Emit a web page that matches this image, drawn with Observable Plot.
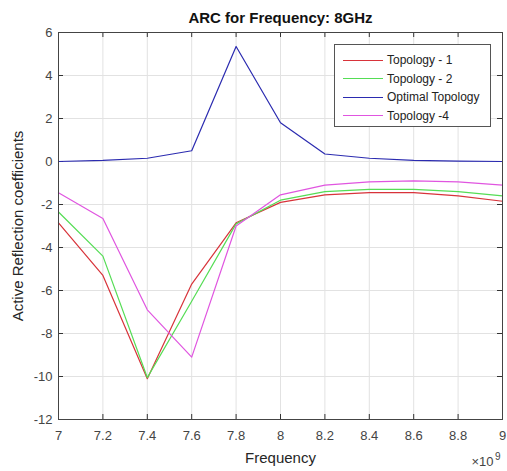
<!DOCTYPE html>
<html><head><meta charset="utf-8">
<script src="https://cdn.jsdelivr.net/npm/d3@7"></script>
<script src="https://cdn.jsdelivr.net/npm/@observablehq/plot@0.6"></script>
<style>
body{margin:0;background:#fff;}
#wrap{position:relative;width:507px;height:471px;font-family:"Liberation Sans",Arial,sans-serif;}
#legend{position:absolute;left:334px;top:44px;width:155px;height:81px;border:1px solid #555;background:#fff;}
.row{position:absolute;left:8px;height:18px;display:flex;align-items:center;font-size:12px;color:#222;white-space:nowrap;}
.sw{width:40px;height:0;border-top:1.3px solid;margin-right:4px;}
</style></head><body><div id="wrap"></div>
<script>
const freqGHz = [7, 7.2, 7.4, 7.6, 7.8, 8, 8.2, 8.4, 8.6, 8.8, 9];
const topology1 = [-2.85, -5.3, -10.1, -5.7, -2.85, -1.9, -1.55, -1.45, -1.45, -1.6, -1.85];
const topology2 = [-2.35, -4.4, -10.05, -6.5, -2.9, -1.8, -1.4, -1.3, -1.3, -1.4, -1.6];
const optimal = [0.0, 0.05, 0.15, 0.5, 5.35, 1.8, 0.35, 0.15, 0.05, 0.02, 0.0];
const topology4 = [-1.45, -2.65, -6.9, -9.1, -3.0, -1.55, -1.1, -0.95, -0.9, -0.95, -1.1];
const seriesNames = ["Topology - 1", "Topology - 2", "Optimal Topology", "Topology -4"];
const seriesColors = ["#d8333a", "#55dd55", "#2b2bb0", "#e055e0"];
const xTicks = [7, 7.2, 7.4, 7.6, 7.8, 8, 8.2, 8.4, 8.6, 8.8, 9];
const yTicks = [-12, -10, -8, -6, -4, -2, 0, 2, 4, 6];
const titleText = "ARC for Frequency: 8GHz";
const xLabel = "Frequency";
const yLabel = "Active Reflection coefficients";
const expBase = "×10";
const expPower = "9";

const allSeries = [topology1, topology2, optimal, topology4];
const rows = [];
allSeries.forEach((vals, i) => vals.forEach((v, j) => rows.push({series: seriesNames[i], f: freqGHz[j], v})));

const W = 507, H = 471, mL = 58, mR = 5, mT = 32, mB = 52;
const pw = W - mL - mR, ph = H - mT - mB;
const tickLen = 5;
const font = "Liberation Sans, Arial, sans-serif";

const chart = Plot.plot({
  width: W, height: H,
  marginLeft: mL, marginRight: mR, marginTop: mT, marginBottom: mB,
  style: {fontFamily: font, background: "#fff", overflow: "visible"},
  x: {domain: [7, 9], ticks: xTicks, label: null},
  y: {domain: [-12, 6], ticks: yTicks, label: null},
  color: {domain: seriesNames, range: seriesColors},
  marks: [
    Plot.gridX(xTicks, {stroke: "#e2e2e2", strokeOpacity: 1}),
    Plot.gridY(yTicks, {stroke: "#e2e2e2", strokeOpacity: 1}),
    Plot.tickX(xTicks, {x: d => d, insetTop: ph - tickLen, stroke: "#333"}),
    Plot.tickX(xTicks, {x: d => d, insetBottom: ph - tickLen, stroke: "#333"}),
    Plot.tickY(yTicks, {y: d => d, insetRight: pw - tickLen, stroke: "#333"}),
    Plot.tickY(yTicks, {y: d => d, insetLeft: pw - tickLen, stroke: "#333"}),
    Plot.axisX(xTicks, {tickSize: 0, tickPadding: 11, fontSize: 13, fill: "#444", tickFormat: d => String(d), label: null}),
    Plot.axisY(yTicks, {tickSize: 0, tickPadding: 6, fontSize: 13, fill: "#444", tickFormat: d => String(d), label: null}),
    Plot.line(rows, {x: "f", y: "v", z: "series", stroke: "series", strokeWidth: 1.2}),
    Plot.frame({stroke: "#444", strokeWidth: 1}),
    Plot.text([titleText], {frameAnchor: "top", lineAnchor: "bottom", dy: -10, fontSize: 15, fontWeight: "bold", fill: "#111"}),
    Plot.text([xLabel], {frameAnchor: "bottom", lineAnchor: "bottom", dy: 43, fontSize: 15, fill: "#262626"}),
    Plot.text([yLabel], {frameAnchor: "left", textAnchor: "middle", rotate: -90, dx: -40, fontSize: 15, fill: "#262626"}),
    Plot.text([expBase], {frameAnchor: "bottom-right", textAnchor: "end", lineAnchor: "bottom", dy: 46, dx: -9, fontSize: 13, fill: "#444"}),
    Plot.text([expPower], {frameAnchor: "bottom-right", textAnchor: "end", lineAnchor: "bottom", dy: 40, dx: -2, fontSize: 10, fill: "#444"})
  ]
});

const wrap = document.getElementById("wrap");
wrap.appendChild(chart);
const legend = document.createElement("div");
legend.id = "legend";
const rowTops = [6, 24.5, 43, 61.5];
seriesNames.forEach((n, i) => {
  const r = document.createElement("div");
  r.className = "row";
  r.style.top = rowTops[i] + "px";
  const sw = document.createElement("span");
  sw.className = "sw";
  sw.style.borderTopColor = seriesColors[i];
  const t = document.createElement("span");
  t.textContent = n;
  r.appendChild(sw); r.appendChild(t);
  legend.appendChild(r);
});
wrap.appendChild(legend);
</script></body></html>
